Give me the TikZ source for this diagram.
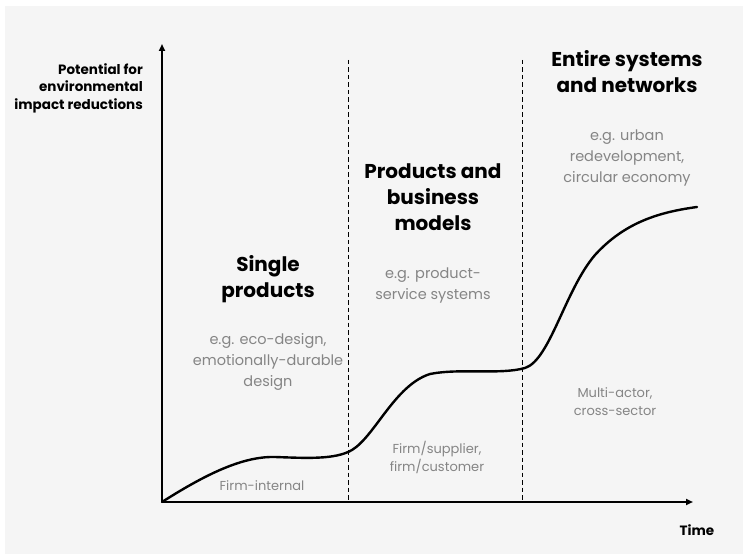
\documentclass[tikz,border=0pt]{standalone}
\usepackage{fontspec}
\setmainfont{Poppins}
\usetikzlibrary{arrows.meta}
\definecolor{bg}{HTML}{F5F5F5}
\definecolor{greytxt}{HTML}{858585}
\tikzset{
  head/.style={font=\fontsize{20}{26}\selectfont\bfseries, align=center, text=black, inner sep=0pt},
  sub/.style={font=\fontsize{14.5}{21}\selectfont, align=center, text=greytxt, inner sep=0pt},
  small/.style={font=\fontsize{13}{18}\selectfont, align=center, text=greytxt, inner sep=0pt},
  axlab/.style={font=\fontsize{13.5}{17.5}\selectfont\bfseries, text=black, inner sep=0pt},
  axis/.style={line width=2pt, -{Triangle[length=7pt,width=6pt]}},
  divider/.style={line width=0.9pt, dash pattern=on 4.5pt off 3pt},
  curve/.style={line width=2.4pt, line cap=round}
}
\begin{document}
\begin{tikzpicture}[x=1pt,y=-1pt]
\useasboundingbox (0,0) rectangle (748,559);
\fill[white] (0,0) rectangle (748,559);
\fill[bg] (5,6) rectangle (743,554);
% axes
\coordinate (O) at (162,502);
\coordinate (Ytop) at (162,44);
\coordinate (Xend) at (693,502);
\coordinate (d1t) at (348,60);
\coordinate (d1b) at (348,502);
\coordinate (d2t) at (522,60);
\coordinate (d2b) at (522,502);
\draw[divider] (d1t) -- (d1b);
\draw[divider] (d2t) -- (d2b);
\draw[axis] (O) -- (Ytop);
\draw[axis] (O) -- (Xend);
% curve
\draw[curve] (O) .. controls (200,478) and (240,456) .. (275,457)
  .. controls (305,458) and (335,460) .. (352,450)
  .. controls (375,436) and (395,385) .. (430,374)
  .. controls (460,368) and (500,375) .. (525,368)
  .. controls (550,360) and (565,290) .. (595,255)
  .. controls (625,222) and (660,212) .. (697,207);
% labels
\node[axlab, align=right, anchor=east] (ylab) at (143,88) {Potential for\\environmental\\impact reductions};
\node[axlab, anchor=center] (xlab) at (697,530) {Time};
\node[head] (h1) at (268,279) {Single\\products};
\node[sub] (s1) at (268,362) {e.g. eco-design,\\emotionally-durable\\design};
\node[small] (f1) at (262,486) {Firm-internal};
\node[head] (h2) at (433,197) {Products and\\business\\models};
\node[sub] (s2) at (433,286) {e.g. product-\\service systems};
\node[small] (f2) at (437,457) {Firm/supplier,\\firm/customer};
\node[head] (h3) at (627,72) {Entire systems\\and networks};
\node[sub] (s3) at (627,158) {e.g. urban\\redevelopment,\\circular economy};
\node[small] (f3) at (615,402) {Multi-actor,\\cross-sector};
\end{tikzpicture}
\end{document}
